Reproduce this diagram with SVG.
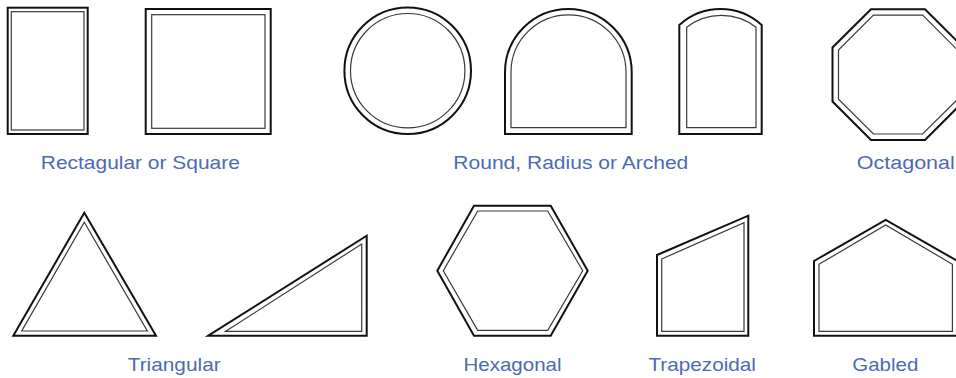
<svg xmlns="http://www.w3.org/2000/svg" width="956" height="378" viewBox="0 0 956 378">
<style>
.o{fill:none;stroke:#111;stroke-width:2;stroke-linejoin:miter}
.i{fill:none;stroke:#3a3a3a;stroke-width:1.2;stroke-linejoin:miter}
.t{font-family:"Liberation Sans",Arial,sans-serif;font-size:18.5px;fill:#4d6ab4;text-anchor:middle}
</style>
<rect width="956" height="378" fill="#fff"/>
<g id="rect-tall">
<rect class="o" x="7.7" y="7.7" width="80" height="126.3"/>
<rect class="i" x="11.3" y="11.7" width="72.7" height="118.3"/>
</g>
<g id="square">
<rect class="o" x="145.7" y="9" width="125" height="125"/>
<rect class="i" x="151.7" y="14.7" width="113.3" height="113.6"/>
</g>
<g id="round">
<circle class="o" cx="407.7" cy="70.7" r="63.3"/>
<circle class="i" cx="407.7" cy="70.7" r="57.2"/>
</g>
<g id="radius">
<path class="o" d="M505,134 L505,72.3 A63.35,63.35 0 0 1 631.7,72.3 L631.7,134 Z"/>
<path class="i" d="M511,127.7 L511,72.3 A57.5,57.5 0 0 1 626,72.3 L626,127.7 Z"/>
</g>
<g id="arched">
<path class="o" d="M679.3,134 L679.3,25 A61,61 0 0 1 761.7,25 L761.7,134 Z"/>
<path class="i" d="M686.7,127.7 L686.7,27.3 A56.3,56.3 0 0 1 756,27.3 L756,127.7 Z"/>
</g>
<g id="octagon">
<polygon class="o" points="871,9.3 925,9.3 963.5,47.5 963.5,101.5 925,140 871,140 832.5,101.5 832.5,47.5"/>
<polygon class="i" points="873.4,15.2 922.6,15.2 957.5,50 957.5,99.3 922.6,134 873.4,134 838.5,99.3 838.5,50"/>
</g>
<g id="triangle-equilateral">
<polygon class="o" points="84.3,212.7 156,335.7 13.3,335.7"/>
<polygon class="i" points="84.3,222.3 147.3,331 21.7,331"/>
</g>
<g id="triangle-right">
<polygon class="o" points="208.3,335.7 366.7,235.7 366.7,335.7"/>
<polygon class="i" points="225.7,331.3 361.7,244 361.7,331.3"/>
</g>
<g id="hexagon">
<polygon class="o" points="474,205.7 550.7,205.7 587.7,270.7 550.7,335.7 474,335.7 437.3,270.7"/>
<polygon class="i" points="477.7,211 547.7,211 582.7,270.7 547.7,330.3 477.7,330.3 443.3,270.7"/>
</g>
<g id="trapezoid">
<polygon class="o" points="657,255 748.3,215.7 748.3,335.7 657,335.7"/>
<polygon class="i" points="661.7,259 744,222.7 744,331.3 661.7,331.3"/>
</g>
<g id="gabled">
<polygon class="o" points="814,261 885.7,220 957.4,261 957.4,335.7 814,335.7"/>
<polygon class="i" points="819,264.3 885.7,225 952.4,264.3 952.4,331.3 819,331.3"/>
</g>
<g id="labels">
<text class="t" x="140.3" y="168.5" textLength="199" lengthAdjust="spacingAndGlyphs">Rectagular or Square</text>
<text class="t" x="570.8" y="168.5" textLength="235" lengthAdjust="spacingAndGlyphs">Round, Radius or Arched</text>
<text class="t" x="905.8" y="168.5" textLength="98" lengthAdjust="spacingAndGlyphs">Octagonal</text>
<text class="t" x="174.2" y="371" textLength="93" lengthAdjust="spacingAndGlyphs">Triangular</text>
<text class="t" x="512.5" y="371" textLength="98" lengthAdjust="spacingAndGlyphs">Hexagonal</text>
<text class="t" x="702.2" y="371" textLength="107.5" lengthAdjust="spacingAndGlyphs">Trapezoidal</text>
<text class="t" x="885.3" y="371" textLength="66" lengthAdjust="spacingAndGlyphs">Gabled</text>
</g>
</svg>
